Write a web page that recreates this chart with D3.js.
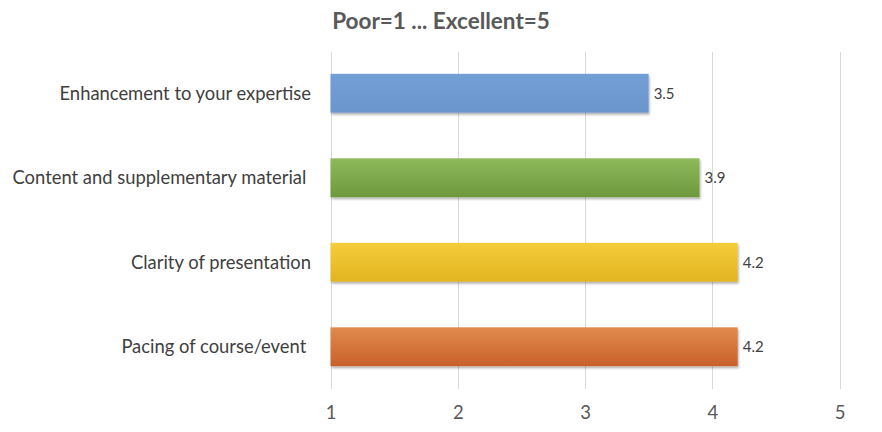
<!DOCTYPE html>
<html><head><meta charset="utf-8">
<script src="https://cdn.jsdelivr.net/npm/d3@7"></script>
<style>body{margin:0;background:#fff;}svg{display:block;}</style>
</head><body>
<svg id="c" width="882" height="432"></svg>
<script>
const categories = ["Enhancement to your expertise","Content and supplementary material ","Clarity of presentation","Pacing of course/event "];
const values = [3.5, 3.9, 4.2, 4.2];
const ticks = [1,2,3,4,5];
const title = "Poor=1 ... Excellent=5";
const colorsTop = ["#729fd6","#8fba5c","#f5cc3a","#e28b4f"];
const colorsBot = ["#6a96cc","#6d983b","#e2b421","#c8602a"];

const svg = d3.select("#c");
const x = d3.scaleLinear().domain([1,5]).range([330.5,839.5]);
const y = d3.scaleBand().domain(categories).range([51,389]).paddingInner(0.54).paddingOuter(0.27);

const defs = svg.append("defs");
categories.forEach((c,i)=>{
  const g = defs.append("linearGradient").attr("id","g"+i).attr("x1",0).attr("y1",0).attr("x2",0).attr("y2",1);
  g.append("stop").attr("offset","0%").attr("stop-color",colorsTop[i]);
  g.append("stop").attr("offset","100%").attr("stop-color",colorsBot[i]);
});
const f = defs.append("filter").attr("id","sh").attr("x","-5%").attr("y","-20%").attr("width","110%").attr("height","150%");
f.append("feDropShadow").attr("dx",1).attr("dy",2).attr("stdDeviation",1.2).attr("flood-color","#000").attr("flood-opacity",0.3);

svg.append("text").attr("x",441).attr("y",29).attr("text-anchor","middle")
  .attr("font-family","Lato, 'Open Sans', sans-serif").attr("font-weight","bold").attr("font-size",22.5)
  .attr("fill","#595959").text(title);

svg.append("g").selectAll("line").data(ticks).join("line")
  .attr("x1",d=>Math.round(x(d))+0.5).attr("x2",d=>Math.round(x(d))+0.5)
  .attr("y1",52).attr("y2",389).attr("stroke","#d9d9d9").attr("stroke-width",1);

const ax = svg.append("g").attr("transform","translate(0,389)")
  .call(d3.axisBottom(x).tickValues(ticks).tickFormat(d3.format("d")).tickSize(0).tickPadding(17));
ax.select(".domain").remove();
ax.selectAll("text").attr("font-family","Lato, 'Open Sans', sans-serif").attr("font-size",18.5).attr("fill","#595959");

svg.append("g").selectAll("rect").data(values).join("rect")
  .attr("x",x(1)).attr("y",(d,i)=>y(categories[i]))
  .attr("width",d=>x(d)-x(1)).attr("height",y.bandwidth())
  .attr("fill",(d,i)=>`url(#g${i})`).attr("filter","url(#sh)");

svg.append("g").selectAll("text").data(values).join("text")
  .attr("x",d=>x(d)+5).attr("y",(d,i)=>y(categories[i])+y.bandwidth()/2)
  .attr("dy","0.35em").attr("font-family","Lato, 'Open Sans', sans-serif").attr("font-size",15)
  .attr("fill","#404040").text(d=>d3.format(".1f")(d));

svg.append("g").selectAll("text").data(categories).join("text")
  .attr("x",311).attr("y",c=>y(c)+y.bandwidth()/2).attr("dy","0.35em")
  .attr("text-anchor","end").attr("xml:space","preserve")
  .style("white-space","pre")
  .attr("font-family","Lato, 'Open Sans', sans-serif").attr("font-size",18.4)
  .attr("fill","#404040").text(c=>c);
</script>
</body></html>
